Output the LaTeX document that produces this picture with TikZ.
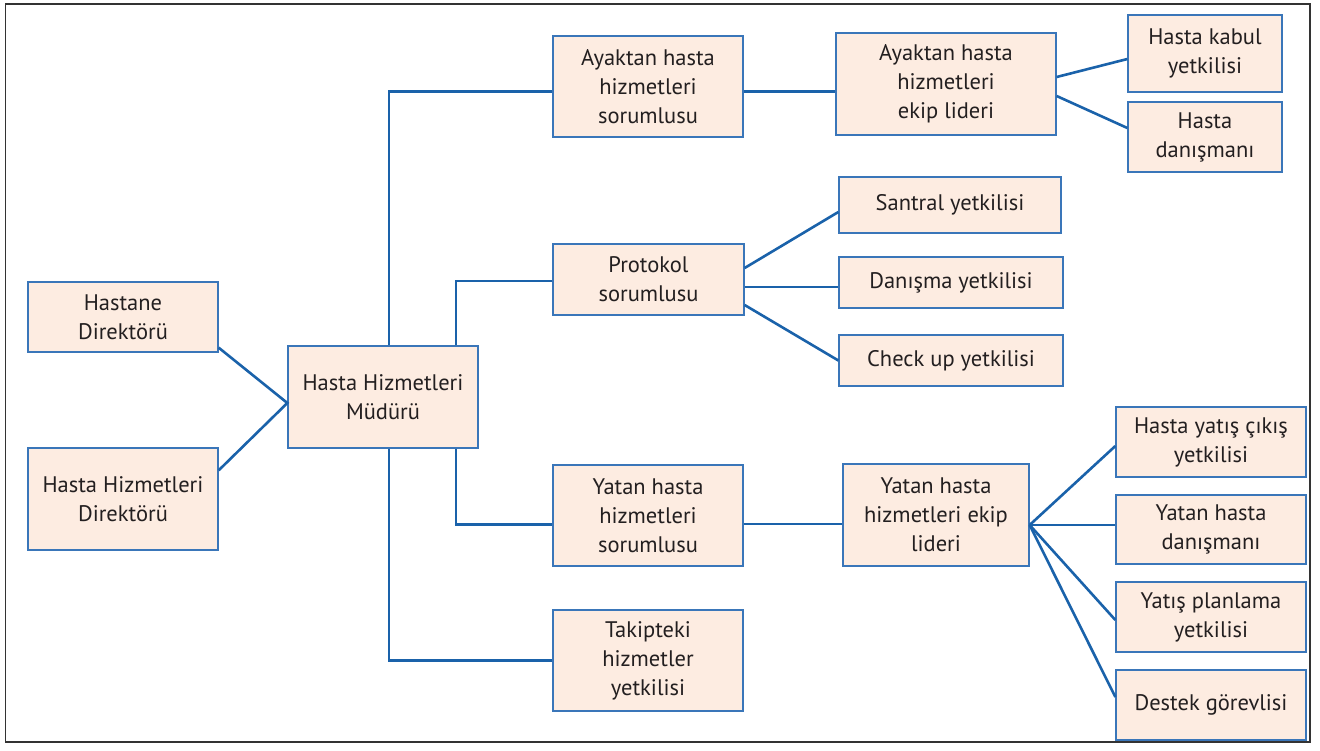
\documentclass[tikz,border=0pt]{standalone}
\usepackage{fontspec}
\setmainfont{PT Sans}
\usetikzlibrary{calc}
\definecolor{boxfill}{HTML}{FDECE1}
\definecolor{boxline}{HTML}{3A76B9}
\definecolor{conn}{HTML}{1A62AA}
\definecolor{txt}{HTML}{231F20}
\definecolor{frame}{HTML}{333333}
\begin{document}
\begin{tikzpicture}[x=1pt,y=-1pt,
  box/.style={draw=boxline, line width=1.3pt, fill=boxfill, inner sep=0pt, align=center,
    text=txt, font=\fontsize{22.5}{29}\selectfont},
  link/.style={draw=conn, line width=2.6pt, line cap=butt, line join=miter}]
\useasboundingbox (0,0) rectangle (1320,750);
\draw[frame, line width=1.4pt] (5.5,4) rectangle (1310,742);
\newcommand{\bx}[6]{\node[box, minimum width=#4pt, minimum height=#5pt] (#1) at (#2,#3) {#6};}
% boxes
\bx{hd}{123}{317}{190}{70}{Hastane\\Direktörü}
\bx{hhd}{123}{499}{190}{102}{Hasta Hizmetleri\\Direktörü}
\bx{mud}{383}{397}{190}{102}{Hasta Hizmetleri\\Müdürü}
\bx{ays}{648}{86.5}{190}{101}{Ayaktan hasta\\hizmetleri\\sorumlusu}
\bx{ayl}{946}{84}{220}{102}{Ayaktan hasta\\hizmetleri\\ekip lideri}
\bx{hk}{1205}{53.5}{154}{77}{Hasta kabul\\yetkilisi}
\bx{hdan}{1205}{137}{154}{70}{Hasta\\danışmanı}
\bx{pro}{648.5}{279.5}{191}{71}{Protokol\\sorumlusu}
\bx{san}{950}{205}{222}{56}{Santral yetkilisi}
\bx{dan}{951}{282.5}{224}{51}{Danışma yetkilisi}
\bx{chk}{951}{360.5}{224}{51}{Check up yetkilisi}
\bx{yas}{648}{515.5}{190}{101}{Yatan hasta\\hizmetleri\\sorumlusu}
\bx{tak}{648}{660.5}{190}{101}{Takipteki\\hizmetler\\yetkilisi}
\bx{yel}{936}{515}{186}{102}{Yatan hasta\\hizmetleri ekip\\lideri}
\bx{hyc}{1211}{442}{190}{70}{Hasta yatış çıkış\\yetkilisi}
\bx{yhd}{1211}{529.5}{190}{69}{Yatan hasta\\danışmanı}
\bx{ypl}{1211}{617}{190}{70}{Yatış planlama\\yetkilisi}
\bx{des}{1211}{705}{190}{70}{Destek görevlisi}
% connectors
\draw[link] ($(hd.south east)+(0,-5)$) -- ($(mud.west)+(0,6)$) -- ($(hhd.north east)+(0,23)$);
\draw[link] ($(mud.north)+(6,0)$) |- ($(ays.west)+(0,5)$);
\draw[link] ($(mud.north)+(73,0)$) |- ($(pro.west)+(0,1.5)$);
\draw[link] ($(mud.south)+(73,0)$) |- ($(yas.west)+(0,9)$);
\draw[link] ($(mud.south)+(6,0)$) |- (tak.west);
\draw[link] ($(ays.east)+(0,5)$) -- ($(ayl.west)+(0,7.5)$);
\draw[link] ($(ayl.east)+(0,-7)$) -- ($(hk.west)+(0,5.5)$);
\draw[link] ($(ayl.east)+(0,12)$) -- ($(hdan.west)+(0,-9)$);
\draw[link] ($(pro.east)+(0,-11.5)$) -- ($(san.west)+(0,7)$);
\draw[link] ($(pro.east)+(0,7.5)$) -- ($(dan.west)+(0,4.5)$);
\draw[link] ($(pro.east)+(0,25.5)$) -- (chk.west);
\draw[link] ($(yas.east)+(0,8.5)$) -- ($(yel.west)+(0,9)$);
\draw[link] ($(yel.east)+(0,10)$) -- ($(hyc.west)+(0,4)$);
\draw[link] ($(yel.east)+(0,10)$) -- ($(yhd.west)+(0,-4.5)$);
\draw[link] ($(yel.east)+(0,10)$) -- ($(ypl.west)+(0,3)$);
\draw[link] ($(yel.east)+(0,10)$) -- ($(des.west)+(0,-8)$);
\end{tikzpicture}
\end{document}
